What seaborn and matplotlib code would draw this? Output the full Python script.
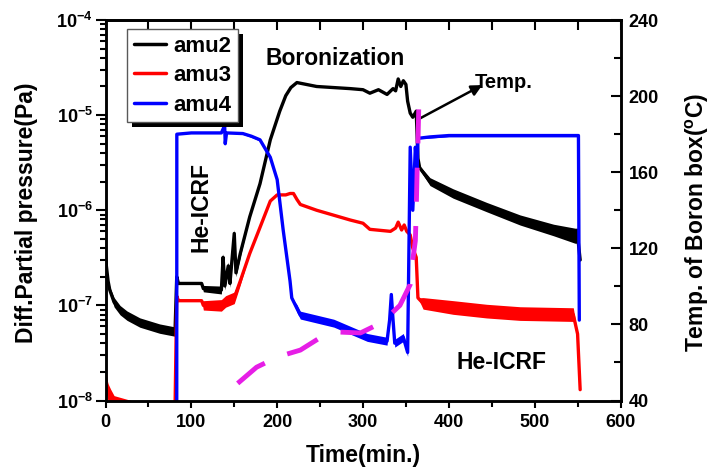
import numpy as np
import pandas as pd
import matplotlib
matplotlib.use("Agg")
import matplotlib.pyplot as plt
import seaborn as sns
from matplotlib.ticker import FixedLocator, NullFormatter, LogLocator, MultipleLocator, FuncFormatter
from matplotlib.patches import Rectangle
from matplotlib.lines import Line2D
from matplotlib.transforms import IdentityTransform

# ---------------- data ----------------
amu2_t = [0, 1, 3, 5, 10, 17, 25, 40, 63, 81,
          83, 85, 112, 114, 135, 137, 139, 143, 145, 150, 152, 157, 168, 180, 192, 203, 210, 216, 223,
          246, 285, 300, 308, 318, 328, 335, 338, 341, 344, 347, 350, 352, 355, 358, 362, 364, 366,
          378, 405, 444, 483, 522, 547, 550, 553]
amu2_v = [3.6e-7, 2.6e-7, 1.8e-7, 1.45e-7, 1.08e-7, 8.9e-8, 7.8e-8, 6.6e-8, 5.7e-8, 5.3e-8,
          2.0e-7, 1.7e-7, 1.7e-7, 1.5e-7, 1.45e-7, 3.2e-7, 1.6e-7, 2.6e-7, 1.7e-7, 5.7e-7, 2.2e-7, 3.5e-7,
          8.5e-7, 1.9e-6, 5.5e-6, 1.1e-5, 1.6e-5, 1.95e-5, 2.2e-5,
          2.0e-5, 1.9e-5, 1.85e-5, 1.7e-5, 1.85e-5, 1.65e-5, 1.9e-5, 1.8e-5, 2.4e-5, 2.0e-5, 2.3e-5,
          2.1e-5, 1.4e-5, 1.05e-5, 9.5e-6, 1.1e-5, 3.5e-6, 2.8e-6,
          2.0e-6, 1.5e-6, 1.08e-6, 7.9e-7, 6.2e-7, 5.4e-7, 5.4e-7, 3.0e-7]
amu2_spread = [1.0, 1.0, 1.03, 1.08, 1.12, 1.12, 1.12, 1.12, 1.12, 1.12,
               1.0, 1.0, 1.0, 1.08, 1.1, 1.1, 1.1, 1.1, 1.1, 1.1, 1.1, 1.08, 1.0, 1.0, 1.0, 1.0, 1.0, 1.0, 1.0,
               1.0, 1.0, 1.0, 1.0, 1.0, 1.0, 1.0, 1.0, 1.0, 1.0, 1.0, 1.0, 1.0, 1.0, 1.0, 1.0, 1.0, 1.05,
               1.1, 1.12, 1.12, 1.13, 1.15, 1.2, 1.2, 1.0]

amu3_t = [0, 1, 3, 6, 10, 30, 81,
          83, 85, 112, 114, 135, 140, 150, 157, 168, 180, 192, 200, 210, 215, 219, 223, 227,
          246, 285, 300, 308, 332, 338, 341, 345, 348, 351, 355, 358, 362, 364, 370,
          405, 444, 483, 545, 550, 553]
amu3_v = [1.8e-8, 1.5e-8, 1.2e-8, 1.05e-8, 9e-9, 8e-9, 8e-9,
          1.25e-7, 1.12e-7, 1.12e-7, 1.0e-7, 1.0e-7, 1.1e-7, 1.2e-7, 1.8e-7, 3.5e-7, 6.6e-7, 1.25e-6,
          1.45e-6, 1.45e-6, 1.5e-6, 1.5e-6, 1.3e-6, 1.15e-6,
          1.0e-6, 7.9e-7, 7.3e-7, 6.3e-7, 6.0e-7, 6.5e-7, 7.5e-7, 6.2e-7, 7.0e-7, 6.0e-7, 5.5e-7, 4.0e-7,
          3.2e-7, 1.2e-7, 1.05e-7,
          9.5e-8, 8.7e-8, 8.2e-8, 8.0e-8, 5.0e-8, 1.3e-8]
amu3_spread = [1.0, 1.2, 1.25, 1.25, 1.25, 1.25, 1.0,
               1.0, 1.0, 1.0, 1.12, 1.15, 1.15, 1.15, 1.1, 1.0, 1.0, 1.0, 1.0, 1.0, 1.0, 1.0, 1.0, 1.0,
               1.0, 1.0, 1.0, 1.0, 1.0, 1.0, 1.0, 1.0, 1.0, 1.0, 1.0, 1.0, 1.0, 1.0, 1.15,
               1.18, 1.18, 1.18, 1.18, 1.0, 1.0]

amu4_t = [83, 83.1, 100, 135, 138, 138.5, 139.5, 141, 160, 170, 180, 192, 200, 207, 215, 217, 223, 227,
          266, 305, 328, 331, 333, 335, 337, 347, 352, 355, 358, 361, 363, 364, 378, 400, 551, 552]
amu4_v = [5e-9, 6.3e-6, 6.5e-6, 6.5e-6, 7.5e-6, 9.5e-6, 5.0e-6, 6.5e-6, 6.4e-6, 6.0e-6, 5.5e-6, 3.6e-6,
          2.1e-6, 6.2e-7, 1.8e-7, 1.2e-7, 9.3e-8, 7.9e-8,
          6.5e-8, 4.6e-8, 4.2e-8, 7.0e-8, 1.3e-7, 7.0e-8, 4.0e-8, 4.6e-8, 3.2e-8, 4.6e-6, 1.0e-6, 4.6e-6,
          2.6e-6, 5.7e-6, 5.9e-6, 6.1e-6, 6.1e-6, 7.0e-8]
amu4_spread = [1.0, 1.0, 1.0, 1.0, 1.0, 1.0, 1.0, 1.0, 1.02, 1.03, 1.03, 1.02, 1.0, 1.0, 1.0, 1.0, 1.1, 1.1,
               1.1, 1.1, 1.1, 1.05, 1.0, 1.05, 1.1, 1.1, 1.1, 1.0, 1.0, 1.0, 1.0, 1.0, 1.03, 1.03, 1.03, 1.0]

temp_t = [154, 176, 201, 227, 250, 271, 297, 322, 343, 355, 358, 361, 362, 363, 364, 365]
temp_v = [49, 57.5, 63, 66.5, 73, 76, 75.5, 81, 90, 101, 114, 124, 140, 160, 175, 195]

series_names = ["amu2", "amu3", "amu4"]
series_colors = ["#000000", "#ff0000", "#0000ff"]
temp_color = "#e61ee6"

xticks_major = [0, 100, 200, 300, 400, 500, 600]
yticks_left = [1e-8, 1e-7, 1e-6, 1e-5, 1e-4]
yticks_right = [40, 80, 120, 160, 200, 240]

# annotation anchors (data coordinates)
txt_boron = (268, 3.98e-5)
txt_temp = (464, 2.22e-5)
arrow_tail = (363, 8.9e-6)
arrow_head = (439, 2.07e-5)
txt_icrf1 = (111, 1.07e-6)
txt_icrf2 = (461, 2.5e-8)

# ---------------- style ----------------
sns.set_style("ticks")
plt.rcParams["font.family"] = ["Liberation Sans", "DejaVu Sans"]
plt.rcParams["font.weight"] = "bold"
plt.rcParams["axes.labelweight"] = "bold"
plt.rcParams["mathtext.fontset"] = "custom"
plt.rcParams["mathtext.rm"] = "Liberation Sans:bold"
plt.rcParams["mathtext.it"] = "Liberation Sans:bold"
plt.rcParams["mathtext.bf"] = "Liberation Sans:bold"
plt.rcParams["mathtext.default"] = "rm"
for k in ["axes.edgecolor", "xtick.color", "ytick.color", "text.color", "axes.labelcolor"]:
    plt.rcParams[k] = "black"

fig = plt.figure(figsize=(7.11, 4.70), dpi=100)
ax = fig.add_axes([105.5 / 711, 1 - 400.5 / 470, 515 / 711, 380.5 / 470])
ax2 = ax.twinx()

ax.set_yscale("log")
for name, t, v, s, c in [("amu2", amu2_t, amu2_v, amu2_spread, series_colors[0]),
                         ("amu3", amu3_t, amu3_v, amu3_spread, series_colors[1]),
                         ("amu4", amu4_t, amu4_v, amu4_spread, series_colors[2])]:
    df = pd.DataFrame({"t": t, "v": v, "s": s})
    ax.fill_between(df["t"], df["v"] / df["s"], df["v"] * df["s"], color=c, lw=0, zorder=2)
    sns.lineplot(data=df, x="t", y="v", ax=ax, color=c, lw=2.4, estimator=None, sort=False,
                 legend=False, zorder=2.1)

dft = pd.DataFrame({"t": temp_t, "v": temp_v})
sns.lineplot(data=dft, x="t", y="v", ax=ax2, color=temp_color, lw=3.5, estimator=None, sort=False,
             legend=False)
ax2.lines[-1].set_dashes([7, 5])
ax2.lines[-1].set_solid_capstyle("butt")

# ---------------- axes ----------------
ax.set_xlim(0, 600)
ax.set_ylim(1e-8, 1e-4)
ax2.set_ylim(40, 240)

ax.xaxis.set_major_locator(FixedLocator(xticks_major))
ax.xaxis.set_minor_locator(MultipleLocator(50))
ax.tick_params(axis="x", which="both", direction="out", top=False, labelsize=13, width=1.5, pad=5)
ax.tick_params(axis="x", which="major", length=5)
ax.tick_params(axis="x", which="minor", length=4)

ax.yaxis.set_major_locator(FixedLocator(yticks_left))
ax.yaxis.set_major_formatter(FuncFormatter(lambda v, p: r"$10^{%d}$" % int(round(np.log10(v)))))
ax.yaxis.set_minor_locator(LogLocator(base=10, subs=np.arange(2, 10), numticks=20))
ax.yaxis.set_minor_formatter(NullFormatter())
ax.tick_params(axis="y", which="both", direction="out", labelsize=13, width=1.5, pad=2)
ax.tick_params(axis="y", which="major", length=7)
ax.tick_params(axis="y", which="minor", length=4)

ax2.yaxis.set_major_locator(FixedLocator(yticks_right))
ax2.yaxis.set_minor_locator(MultipleLocator(20))
ax2.tick_params(axis="y", which="both", direction="in", labelsize=13, width=1.5, pad=6)
ax2.tick_params(axis="y", which="major", length=7)
ax2.tick_params(axis="y", which="minor", length=5)

sec = ax.secondary_xaxis("top")
sec.xaxis.set_major_locator(MultipleLocator(50))
sec.xaxis.set_major_formatter(NullFormatter())
sec.tick_params(direction="in", length=7, width=1.5)

for a in (ax, ax2):
    for sp in a.spines.values():
        sp.set_linewidth(1.8)
        sp.set_color("black")
sec.spines["top"].set_linewidth(1.8)

ax.set_xlabel("Time(min.)", fontsize=16.5, fontweight="bold")
ax.xaxis.set_label_coords(0.5, (400.5 - 444) / 380.5)
ax.set_ylabel("Diff.Partial pressure(Pa)", fontsize=16.5, fontweight="bold")
ax.yaxis.set_label_coords((38 - 105.5) / 515, (400.5 - 213) / 380.5)
ax2.set_ylabel(r"Temp. of Boron box($^{\mathrm{o}}$C)", fontsize=16.5, fontweight="bold")
ax2.yaxis.set_label_coords((684 - 105.5) / 515, (400.5 - 222.5) / 380.5)

# ---------------- annotations ----------------
ax.text(*txt_boron, "Boronization", fontsize=16.5, fontweight="bold", ha="center", va="center")
ax.text(*txt_temp, "Temp.", fontsize=14.5, fontweight="bold", ha="center", va="center")
ax.text(*txt_icrf1, "He-ICRF", fontsize=16.5, fontweight="bold", ha="center", va="center", rotation=90)
ax.text(*txt_icrf2, "He-ICRF", fontsize=16.5, fontweight="bold", ha="center", va="center")
ax.annotate("", xy=arrow_head, xytext=arrow_tail,
            arrowprops=dict(arrowstyle="-|>", color="k", lw=1.8, mutation_scale=16, shrinkA=0, shrinkB=0))

# ---------------- legend ----------------
handles = [Line2D([], [], color=c, lw=2.5) for c in series_colors]
leg = ax2.legend(handles, series_names, loc="upper left", bbox_to_anchor=(0.0417, 0.976),
                 borderaxespad=0, frameon=True, fancybox=False, framealpha=1, edgecolor="0.35",
                 handlelength=1.45, handletextpad=0.35, borderpad=0.3, labelspacing=0.38,
                 prop={"weight": "bold", "size": 16})
leg.get_frame().set_linewidth(1.0)
leg.set_zorder(5)

fig.canvas.draw()
bb = leg.get_window_extent()
shadow = Rectangle((bb.x0 + 5, bb.y0 - 5), bb.width, bb.height, transform=IdentityTransform(),
                   facecolor="black", edgecolor="none", zorder=4.9, clip_on=False)
ax2.add_artist(shadow)

fig.savefig("out.png", dpi=100)
